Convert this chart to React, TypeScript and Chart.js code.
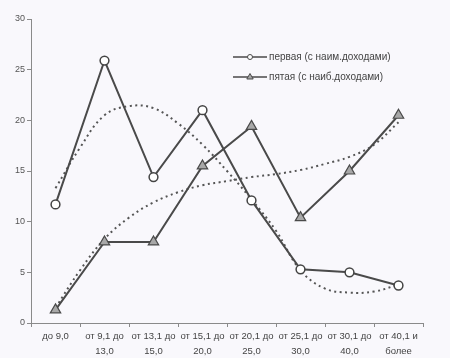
import React, { useEffect, useRef } from "react";
import { Chart, registerables } from "chart.js";

Chart.register(...registerables);

const categories: string[][] = [
  ["до 9,0"],
  ["от 9,1 до", "13,0"],
  ["от 13,1 до", "15,0"],
  ["от 15,1 до", "20,0"],
  ["от 20,1 до", "25,0"],
  ["от 25,1 до", "30,0"],
  ["от 30,1 до", "40,0"],
  ["от 40,1 и", "более"],
];

const firstLabel = "первая (с наим.доходами)";
const fifthLabel = "пятая (с наиб.доходами)";

const firstValues = [11.7, 25.9, 14.4, 21.0, 12.1, 5.3, 5.0, 3.7];
const fifthValues = [1.3, 8.0, 8.0, 15.5, 19.4, 10.4, 15.0, 20.5];

// trend curves at half-category steps
const trendX = [0, 0.5, 1, 1.5, 2, 2.5, 3, 3.5, 4, 4.5, 5, 5.5, 6, 6.5, 7];
const firstTrend = [13.3, 17.3, 20.5, 21.4, 21.2, 19.7, 17.6, 15.0, 12.2, 9.1, 5.2, 3.4, 3.0, 3.1, 3.8];
const fifthTrend = [1.5, 5.2, 8.3, 10.4, 11.9, 12.9, 13.6, 14.0, 14.4, 14.7, 15.1, 15.7, 16.4, 17.6, 19.8];

const yTicks = [0, 5, 10, 15, 20, 25, 30];

const FONT = "'Liberation Sans', Arial, sans-serif";
const LINE = "#4a4a4a";
const AXIS = "#8a8a8a";

export default function App() {
  const ref = useRef<HTMLCanvasElement | null>(null);

  useEffect(() => {
    if (!ref.current) return;

    const bgPlugin = {
      id: "bg",
      beforeDraw(chart: any) {
        const { ctx, width, height } = chart;
        ctx.save();
        ctx.fillStyle = "#f9f8fc";
        ctx.fillRect(0, 0, width, height);
        ctx.restore();
      },
    };

    const legendPlugin = {
      id: "customLegend",
      afterDraw(chart: any) {
        const { ctx, chartArea } = chart;
        const x0 = chartArea.left + 202;
        const items = [
          { label: firstLabel, style: "circle", y: chartArea.top + 38 },
          { label: fifthLabel, style: "triangle", y: chartArea.top + 58 },
        ];
        ctx.save();
        items.forEach((it) => {
          ctx.strokeStyle = LINE;
          ctx.lineWidth = 1.6;
          ctx.beginPath();
          ctx.moveTo(x0, it.y);
          ctx.lineTo(x0 + 34, it.y);
          ctx.stroke();
          const cx = x0 + 17;
          ctx.lineWidth = 1;
          if (it.style === "circle") {
            ctx.fillStyle = "#fff";
            ctx.beginPath();
            ctx.arc(cx, it.y, 2.5, 0, Math.PI * 2);
            ctx.fill();
            ctx.stroke();
          } else {
            ctx.fillStyle = "#a8a8a8";
            ctx.beginPath();
            ctx.moveTo(cx, it.y - 3.5);
            ctx.lineTo(cx + 3.2, it.y + 2);
            ctx.lineTo(cx - 3.2, it.y + 2);
            ctx.closePath();
            ctx.fill();
            ctx.stroke();
          }
          ctx.fillStyle = "#444";
          ctx.font = `10px ${FONT}`;
          ctx.textBaseline = "middle";
          ctx.textAlign = "left";
          ctx.fillText(it.label, x0 + 36, it.y);
        });
        ctx.restore();
      },
    };

    const chart = new Chart(ref.current, {
      type: "line",
      data: {
        labels: categories as any,
        datasets: [
          {
            label: firstLabel,
            data: firstValues,
            xAxisID: "x",
            borderColor: LINE,
            borderWidth: 2,
            pointStyle: "circle",
            pointRadius: 4.4,
            pointBackgroundColor: "#ffffff",
            pointBorderColor: "#444",
            pointBorderWidth: 1.5,
            tension: 0,
            order: 1,
          },
          {
            label: fifthLabel,
            data: fifthValues,
            xAxisID: "x",
            borderColor: LINE,
            borderWidth: 2,
            pointStyle: "triangle",
            pointRadius: 6,
            pointBackgroundColor: "#a8a8a8",
            pointBorderColor: "#4a4a4a",
            pointBorderWidth: 1.2,
            tension: 0,
            order: 1,
          },
          {
            label: "trend1",
            data: trendX.map((x, i) => ({ x, y: firstTrend[i] })) as any,
            xAxisID: "xt",
            borderColor: "#555",
            borderWidth: 2,
            borderDash: [2, 3.5],
            pointRadius: 0,
            tension: 0.4,
            order: 2,
          },
          {
            label: "trend2",
            data: trendX.map((x, i) => ({ x, y: fifthTrend[i] })) as any,
            xAxisID: "xt",
            borderColor: "#555",
            borderWidth: 2,
            borderDash: [2, 3.5],
            pointRadius: 0,
            tension: 0.4,
            order: 2,
          },
        ],
      },
      options: {
        responsive: false,
        animation: false,
        layout: { padding: { top: 19, right: 27, left: 0, bottom: 0 } },
        plugins: {
          legend: { display: false },
          tooltip: { enabled: false },
        },
        scales: {
          x: {
            type: "category",
            offset: true,
            grid: {
              display: true,
              offset: true,
              drawOnChartArea: false,
              drawTicks: true,
              tickLength: 4,
              color: AXIS,
            },
            border: { display: true, color: AXIS, width: 1 },
            ticks: {
              autoSkip: false,
              maxRotation: 0,
              minRotation: 0,
              padding: 2,
              color: "#444",
              font: { family: FONT, size: 9.5, lineHeight: 1.6 },
            },
            afterFit(scale: any) {
              scale.height = 35;
            },
          },
          xt: {
            type: "linear",
            display: false,
            min: -0.5,
            max: 7.5,
          },
          y: {
            type: "linear",
            min: 0,
            max: 30,
            afterBuildTicks(scale: any) {
              scale.ticks = yTicks.map((v) => ({ value: v }));
            },
            grid: {
              display: true,
              drawOnChartArea: false,
              drawTicks: true,
              tickLength: 4,
              color: AXIS,
            },
            border: { display: true, color: AXIS, width: 1 },
            ticks: {
              padding: 2,
              color: "#555",
              font: { family: FONT, size: 9 },
            },
            afterFit(scale: any) {
              scale.width = 31;
            },
          },
        },
      },
      plugins: [bgPlugin, legendPlugin],
    });

    return () => chart.destroy();
  }, []);

  return (
    <div style={{ position: "fixed", left: 0, top: 0, width: 450, height: 358 }}>
      <canvas ref={ref} width={450} height={358} style={{ width: 450, height: 358 }} />
    </div>
  );
}
